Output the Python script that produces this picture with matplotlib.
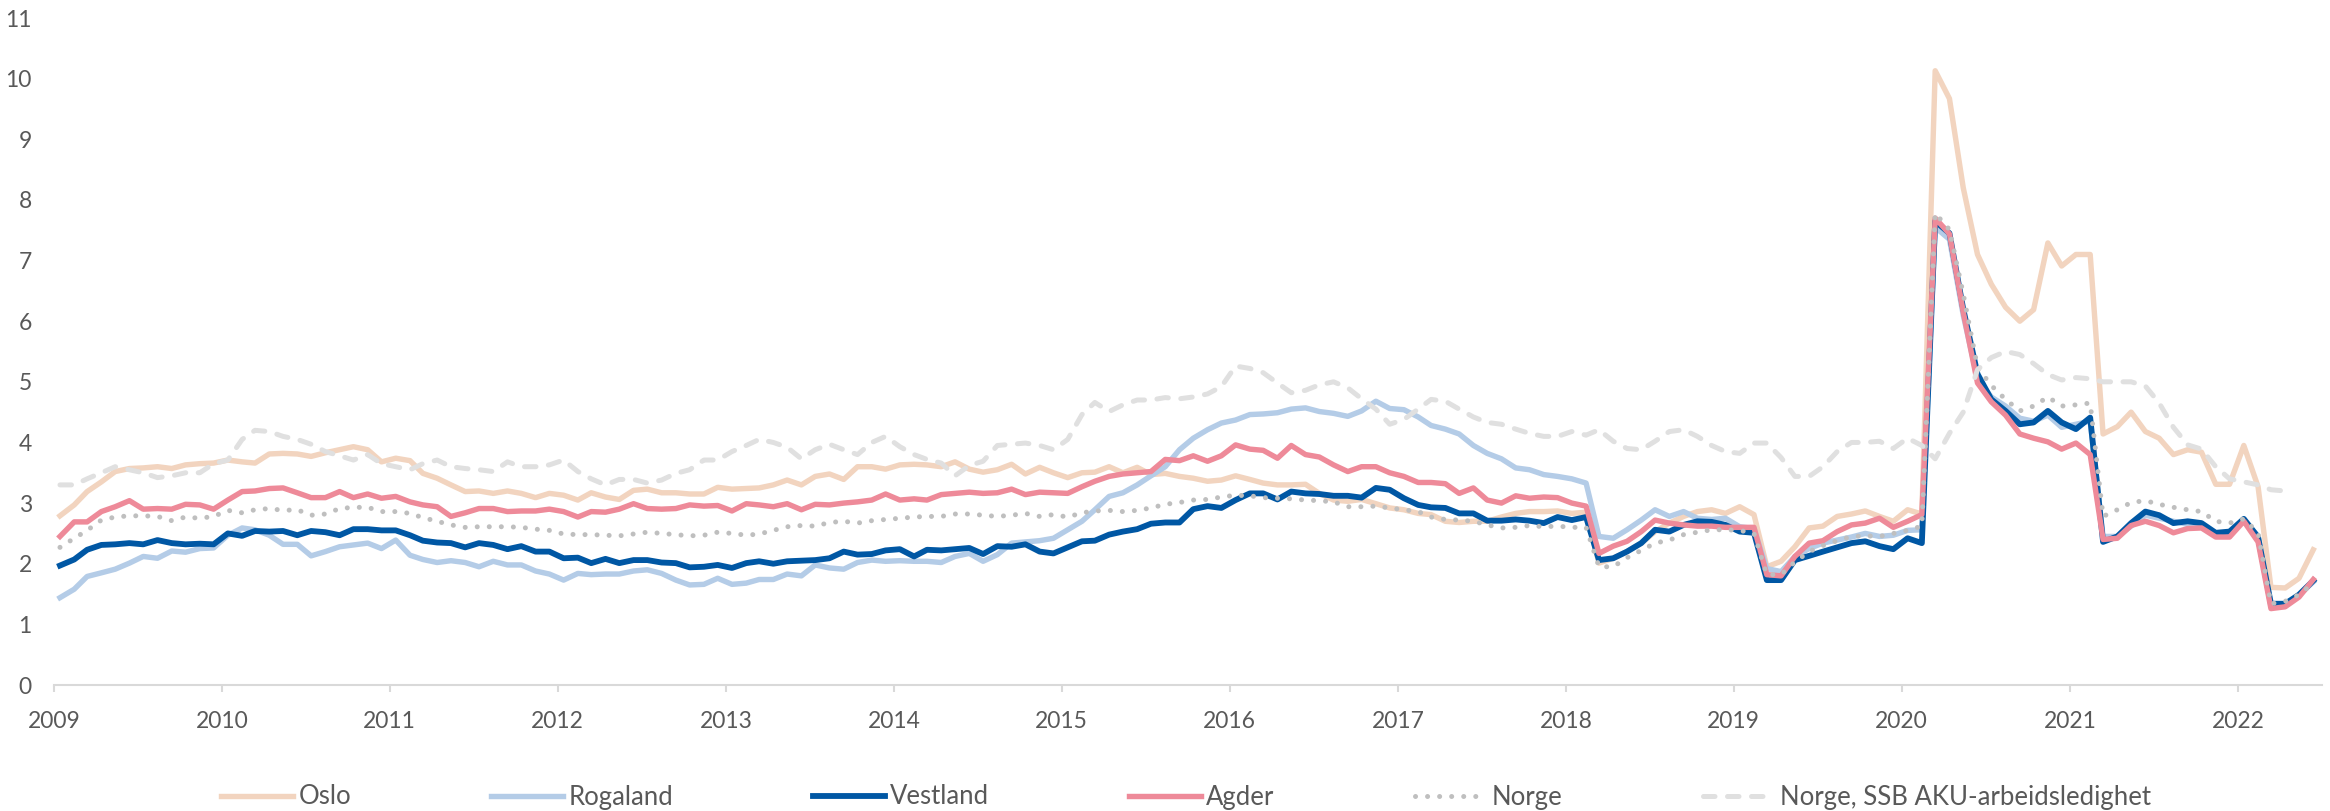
import numpy as np
import pandas as pd
import matplotlib
matplotlib.use("Agg")
import matplotlib.pyplot as plt
import matplotlib.dates as mdates

plt.rcParams['font.family'] = ['Lato', 'DejaVu Sans']

# monthly registered unemployment (%), Jan 2009 - Jun 2022
months = pd.date_range('2009-01-01', periods=162, freq='MS') + pd.Timedelta(days=13)

oslo = [2.79, 2.97, 3.19, 3.35, 3.52, 3.57, 3.58, 3.60, 3.57, 3.63, 3.65, 3.66,
        3.71, 3.68, 3.66, 3.81, 3.82, 3.81, 3.77, 3.83, 3.88, 3.93, 3.88, 3.68,
        3.74, 3.70, 3.49, 3.41, 3.30, 3.19, 3.20, 3.16, 3.20, 3.16, 3.09, 3.16,
        3.13, 3.05, 3.17, 3.10, 3.06, 3.21, 3.23, 3.17, 3.17, 3.15, 3.15, 3.26,
        3.23, 3.24, 3.25, 3.30, 3.38, 3.30, 3.44, 3.48, 3.39, 3.60, 3.60, 3.56,
        3.63, 3.64, 3.63, 3.60, 3.68, 3.56, 3.51, 3.55, 3.64, 3.48, 3.59, 3.50,
        3.42, 3.50, 3.51, 3.60, 3.50, 3.59, 3.47, 3.49, 3.44, 3.41, 3.36, 3.38,
        3.45, 3.39, 3.33, 3.30, 3.30, 3.31, 3.16, 3.05, 3.03, 3.06, 2.99, 2.92,
        2.89, 2.83, 2.81, 2.70, 2.68, 2.70, 2.70, 2.77, 2.83, 2.86, 2.86, 2.87,
        2.83, 2.85, 2.01, 2.09, 2.20, 2.34, 2.53, 2.67, 2.78, 2.86, 2.89, 2.83,
        2.94, 2.81, 1.95, 2.04, 2.28, 2.59, 2.62, 2.78, 2.82, 2.87, 2.78, 2.70,
        2.89, 2.82, 10.13, 9.67, 8.20, 7.10, 6.61, 6.23, 6.00, 6.19, 7.29, 6.91,
        7.10, 7.10, 4.14, 4.26, 4.50, 4.18, 4.07, 3.80, 3.88, 3.84, 3.31, 3.31,
        3.95, 3.27, 1.61, 1.60, 1.76, 2.23]

rogaland = [1.44, 1.58, 1.79, 1.85, 1.91, 2.01, 2.12, 2.09, 2.21, 2.19, 2.25, 2.26,
            2.47, 2.59, 2.56, 2.47, 2.32, 2.32, 2.13, 2.20, 2.28, 2.31, 2.34, 2.25,
            2.39, 2.14, 2.07, 2.02, 2.05, 2.02, 1.95, 2.04, 1.98, 1.98, 1.88, 1.83,
            1.73, 1.84, 1.82, 1.83, 1.83, 1.88, 1.90, 1.84, 1.73, 1.65, 1.66, 1.76,
            1.66, 1.68, 1.74, 1.74, 1.83, 1.80, 1.98, 1.93, 1.91, 2.02, 2.06, 2.04,
            2.05, 2.04, 2.04, 2.02, 2.12, 2.17, 2.04, 2.15, 2.34, 2.36, 2.38, 2.42,
            2.56, 2.70, 2.89, 3.11, 3.17, 3.30, 3.45, 3.60, 3.88, 4.07, 4.21, 4.32,
            4.37, 4.46, 4.47, 4.49, 4.55, 4.57, 4.51, 4.48, 4.43, 4.52, 4.68, 4.56,
            4.54, 4.42, 4.28, 4.22, 4.14, 3.95, 3.82, 3.73, 3.58, 3.55, 3.47, 3.44,
            3.40, 3.33, 2.45, 2.42, 2.56, 2.72, 2.89, 2.78, 2.86, 2.75, 2.73, 2.75,
            2.61, 2.58, 1.92, 1.87, 2.12, 2.25, 2.34, 2.39, 2.44, 2.50, 2.45, 2.47,
            2.55, 2.56, 7.55, 7.35, 6.10, 5.05, 4.75, 4.60, 4.40, 4.35, 4.45, 4.25,
            4.30, 4.35, 2.45, 2.45, 2.62, 2.80, 2.75, 2.70, 2.65, 2.65, 2.50, 2.52,
            2.72, 2.45, 1.30, 1.32, 1.48, 1.70]

vestland = [1.97, 2.07, 2.23, 2.31, 2.32, 2.34, 2.32, 2.39, 2.34, 2.32, 2.33, 2.32,
            2.50, 2.46, 2.54, 2.53, 2.54, 2.47, 2.54, 2.52, 2.47, 2.57, 2.57, 2.55,
            2.55, 2.47, 2.38, 2.35, 2.34, 2.27, 2.34, 2.31, 2.24, 2.29, 2.20, 2.20,
            2.09, 2.10, 2.01, 2.08, 2.01, 2.06, 2.06, 2.02, 2.01, 1.94, 1.95, 1.98,
            1.93, 2.01, 2.04, 2.00, 2.04, 2.05, 2.06, 2.09, 2.20, 2.15, 2.16, 2.22,
            2.24, 2.12, 2.23, 2.22, 2.24, 2.26, 2.16, 2.29, 2.28, 2.32, 2.20, 2.17,
            2.27, 2.37, 2.38, 2.48, 2.53, 2.57, 2.66, 2.68, 2.68, 2.90, 2.95, 2.92,
            3.05, 3.16, 3.16, 3.06, 3.19, 3.16, 3.15, 3.12, 3.12, 3.09, 3.25, 3.22,
            3.08, 2.97, 2.93, 2.92, 2.83, 2.83, 2.71, 2.71, 2.73, 2.71, 2.67, 2.77,
            2.72, 2.77, 2.06, 2.09, 2.20, 2.34, 2.56, 2.53, 2.64, 2.70, 2.69, 2.64,
            2.53, 2.51, 1.73, 1.73, 2.06, 2.13, 2.20, 2.27, 2.34, 2.37, 2.29, 2.24,
            2.42, 2.34, 7.65, 7.45, 6.20, 5.13, 4.71, 4.52, 4.30, 4.33, 4.52, 4.33,
            4.22, 4.41, 2.36, 2.45, 2.67, 2.86, 2.80, 2.67, 2.70, 2.67, 2.51, 2.53,
            2.74, 2.44, 1.34, 1.34, 1.49, 1.72]

agder = [2.45, 2.69, 2.69, 2.86, 2.94, 3.04, 2.90, 2.91, 2.90, 2.98, 2.97, 2.90,
         3.05, 3.19, 3.20, 3.24, 3.25, 3.17, 3.09, 3.09, 3.19, 3.09, 3.15, 3.08,
         3.11, 3.02, 2.97, 2.94, 2.78, 2.84, 2.91, 2.91, 2.86, 2.87, 2.87, 2.90,
         2.86, 2.77, 2.86, 2.85, 2.90, 2.99, 2.91, 2.90, 2.91, 2.97, 2.95, 2.96,
         2.87, 2.99, 2.97, 2.94, 2.99, 2.89, 2.98, 2.97, 3.00, 3.02, 3.05, 3.15,
         3.05, 3.07, 3.05, 3.14, 3.16, 3.18, 3.16, 3.17, 3.23, 3.14, 3.18, 3.17,
         3.16, 3.27, 3.36, 3.44, 3.48, 3.50, 3.52, 3.72, 3.70, 3.78, 3.69, 3.78,
         3.96, 3.89, 3.87, 3.74, 3.95, 3.80, 3.76, 3.63, 3.52, 3.60, 3.60, 3.50,
         3.44, 3.34, 3.34, 3.32, 3.16, 3.25, 3.05, 3.00, 3.12, 3.08, 3.10, 3.09,
         3.00, 2.95, 2.17, 2.29, 2.37, 2.53, 2.72, 2.67, 2.64, 2.62, 2.62, 2.60,
         2.60, 2.60, 1.82, 1.80, 2.12, 2.34, 2.38, 2.53, 2.64, 2.67, 2.75, 2.60,
         2.70, 2.81, 7.70, 7.44, 6.15, 4.98, 4.67, 4.45, 4.14, 4.07, 4.01, 3.89,
         3.99, 3.80, 2.40, 2.42, 2.63, 2.70, 2.63, 2.51, 2.58, 2.59, 2.44, 2.44,
         2.70, 2.36, 1.26, 1.29, 1.45, 1.74]

norge = [2.27, 2.42, 2.55, 2.72, 2.77, 2.79, 2.79, 2.78, 2.71, 2.77, 2.75, 2.78,
         2.88, 2.84, 2.89, 2.91, 2.88, 2.89, 2.80, 2.82, 2.91, 2.93, 2.93, 2.86,
         2.86, 2.83, 2.76, 2.70, 2.64, 2.60, 2.61, 2.61, 2.61, 2.60, 2.57, 2.55,
         2.49, 2.48, 2.48, 2.47, 2.46, 2.49, 2.52, 2.50, 2.48, 2.46, 2.47, 2.52,
         2.50, 2.47, 2.49, 2.55, 2.61, 2.63, 2.62, 2.68, 2.70, 2.67, 2.71, 2.73,
         2.75, 2.77, 2.78, 2.78, 2.82, 2.82, 2.80, 2.78, 2.80, 2.83, 2.78, 2.81,
         2.77, 2.84, 2.87, 2.88, 2.86, 2.88, 2.92, 2.98, 3.01, 3.05, 3.06, 3.10,
         3.13, 3.12, 3.09, 3.08, 3.07, 3.05, 3.04, 3.02, 2.94, 2.94, 2.95, 2.92,
         2.89, 2.86, 2.77, 2.73, 2.72, 2.70, 2.64, 2.59, 2.60, 2.63, 2.61, 2.62,
         2.60, 2.60, 1.95, 1.95, 2.10, 2.22, 2.34, 2.39, 2.48, 2.52, 2.56, 2.56,
         2.55, 2.50, 1.82, 1.82, 2.03, 2.20, 2.30, 2.38, 2.45, 2.46, 2.45, 2.50,
         2.55, 2.62, 7.78, 7.51, 6.45, 5.24, 4.94, 4.71, 4.52, 4.60, 4.75, 4.60,
         4.62, 4.65, 2.78, 2.89, 3.01, 3.04, 2.98, 2.93, 2.89, 2.86, 2.70, 2.67,
         2.74, 2.51, 1.34, 1.38, 1.49, 1.68]

# SSB AKU, last two months not published
aku = [3.30, 3.30, 3.40, 3.50, 3.60, 3.55, 3.50, 3.42, 3.45, 3.50, 3.50, 3.65,
       3.71, 4.05, 4.20, 4.18, 4.10, 4.05, 3.97, 3.85, 3.78, 3.71, 3.80, 3.65,
       3.60, 3.55, 3.65, 3.71, 3.60, 3.57, 3.55, 3.52, 3.68, 3.60, 3.60, 3.63,
       3.71, 3.52, 3.40, 3.30, 3.39, 3.39, 3.33, 3.38, 3.49, 3.55, 3.71, 3.71,
       3.85, 3.95, 4.05, 4.00, 3.92, 3.73, 3.88, 3.97, 3.88, 3.80, 4.00, 4.10,
       3.93, 3.80, 3.72, 3.66, 3.45, 3.62, 3.69, 3.95, 3.97, 3.99, 3.95, 3.88,
       4.05, 4.46, 4.66, 4.51, 4.62, 4.70, 4.70, 4.74, 4.72, 4.75, 4.80, 4.92,
       5.26, 5.22, 5.15, 4.98, 4.82, 4.86, 4.95, 5.00, 4.90, 4.72, 4.55, 4.30,
       4.38, 4.55, 4.71, 4.68, 4.55, 4.42, 4.33, 4.30, 4.22, 4.15, 4.10, 4.10,
       4.18, 4.12, 4.21, 4.02, 3.90, 3.88, 4.02, 4.18, 4.21, 4.10, 3.95, 3.85,
       3.82, 3.99, 3.99, 3.75, 3.44, 3.44, 3.60, 3.85, 4.00, 4.00, 4.02, 3.90,
       4.07, 3.95, 3.73, 4.15, 4.50, 5.20, 5.40, 5.50, 5.45, 5.30, 5.12, 5.03,
       5.07, 5.05, 5.00, 5.00, 5.00, 4.93, 4.65, 4.25, 3.96, 3.89, 3.60, 3.40,
       3.35, 3.30, 3.22, 3.20, np.nan, np.nan]

fig = plt.figure(figsize=(23.3, 8.11), dpi=100)
ax = fig.add_axes([54 / 2330, 126 / 811, (2322 - 54) / 2330, (685 - 18) / 811])

lw = 3.9
ax.plot(months, oslo, color='#F2D4BF', lw=lw, label='Oslo', solid_joinstyle='round')
ax.plot(months, rogaland, color='#B4CCE7', lw=lw, label='Rogaland', solid_joinstyle='round')
ax.plot(months, vestland, color='#0057A4', lw=lw + 0.3, label='Vestland', solid_joinstyle='round')
ax.plot(months, agder, color='#EE8A99', lw=lw, label='Agder', solid_joinstyle='round')
ax.plot(months, norge, color='#BFBFBF', lw=3.6, ls=(0, (0.01, 2.4)),
        dash_capstyle='round', label='Norge')
ax.plot(months, aku, color='#E0E0E0', lw=3.6, ls=(0, (2.3, 2.5)),
        dash_capstyle='round', label='Norge, SSB AKU-arbeidsledighet')

ax.set_ylim(0, 11)
ax.set_yticks(range(0, 12))
ax.set_xlim(pd.Timestamp('2009-01-01'), pd.Timestamp('2022-07-03'))
ax.xaxis.set_major_locator(mdates.YearLocator())
ax.xaxis.set_major_formatter(mdates.DateFormatter('%Y'))

for s in ['top', 'right', 'left']:
    ax.spines[s].set_visible(False)
ax.spines['bottom'].set_color('#D9D9D9')
ax.spines['bottom'].set_linewidth(1.5)
ax.tick_params(axis='x', colors='#D9D9D9', length=5, width=1.5, pad=14,
               labelcolor='#595959', labelsize=16.5)
ax.tick_params(axis='y', length=0, pad=16, labelcolor='#595959', labelsize=16.5)

fig.legend(loc='center', bbox_to_anchor=(0.509, 1 - 797 / 811), ncol=6,
           frameon=False, fontsize=18.5, handlelength=2.8, handletextpad=0.2,
           columnspacing=5.45, labelcolor='#595959')

fig.savefig('out.png', dpi=100)
